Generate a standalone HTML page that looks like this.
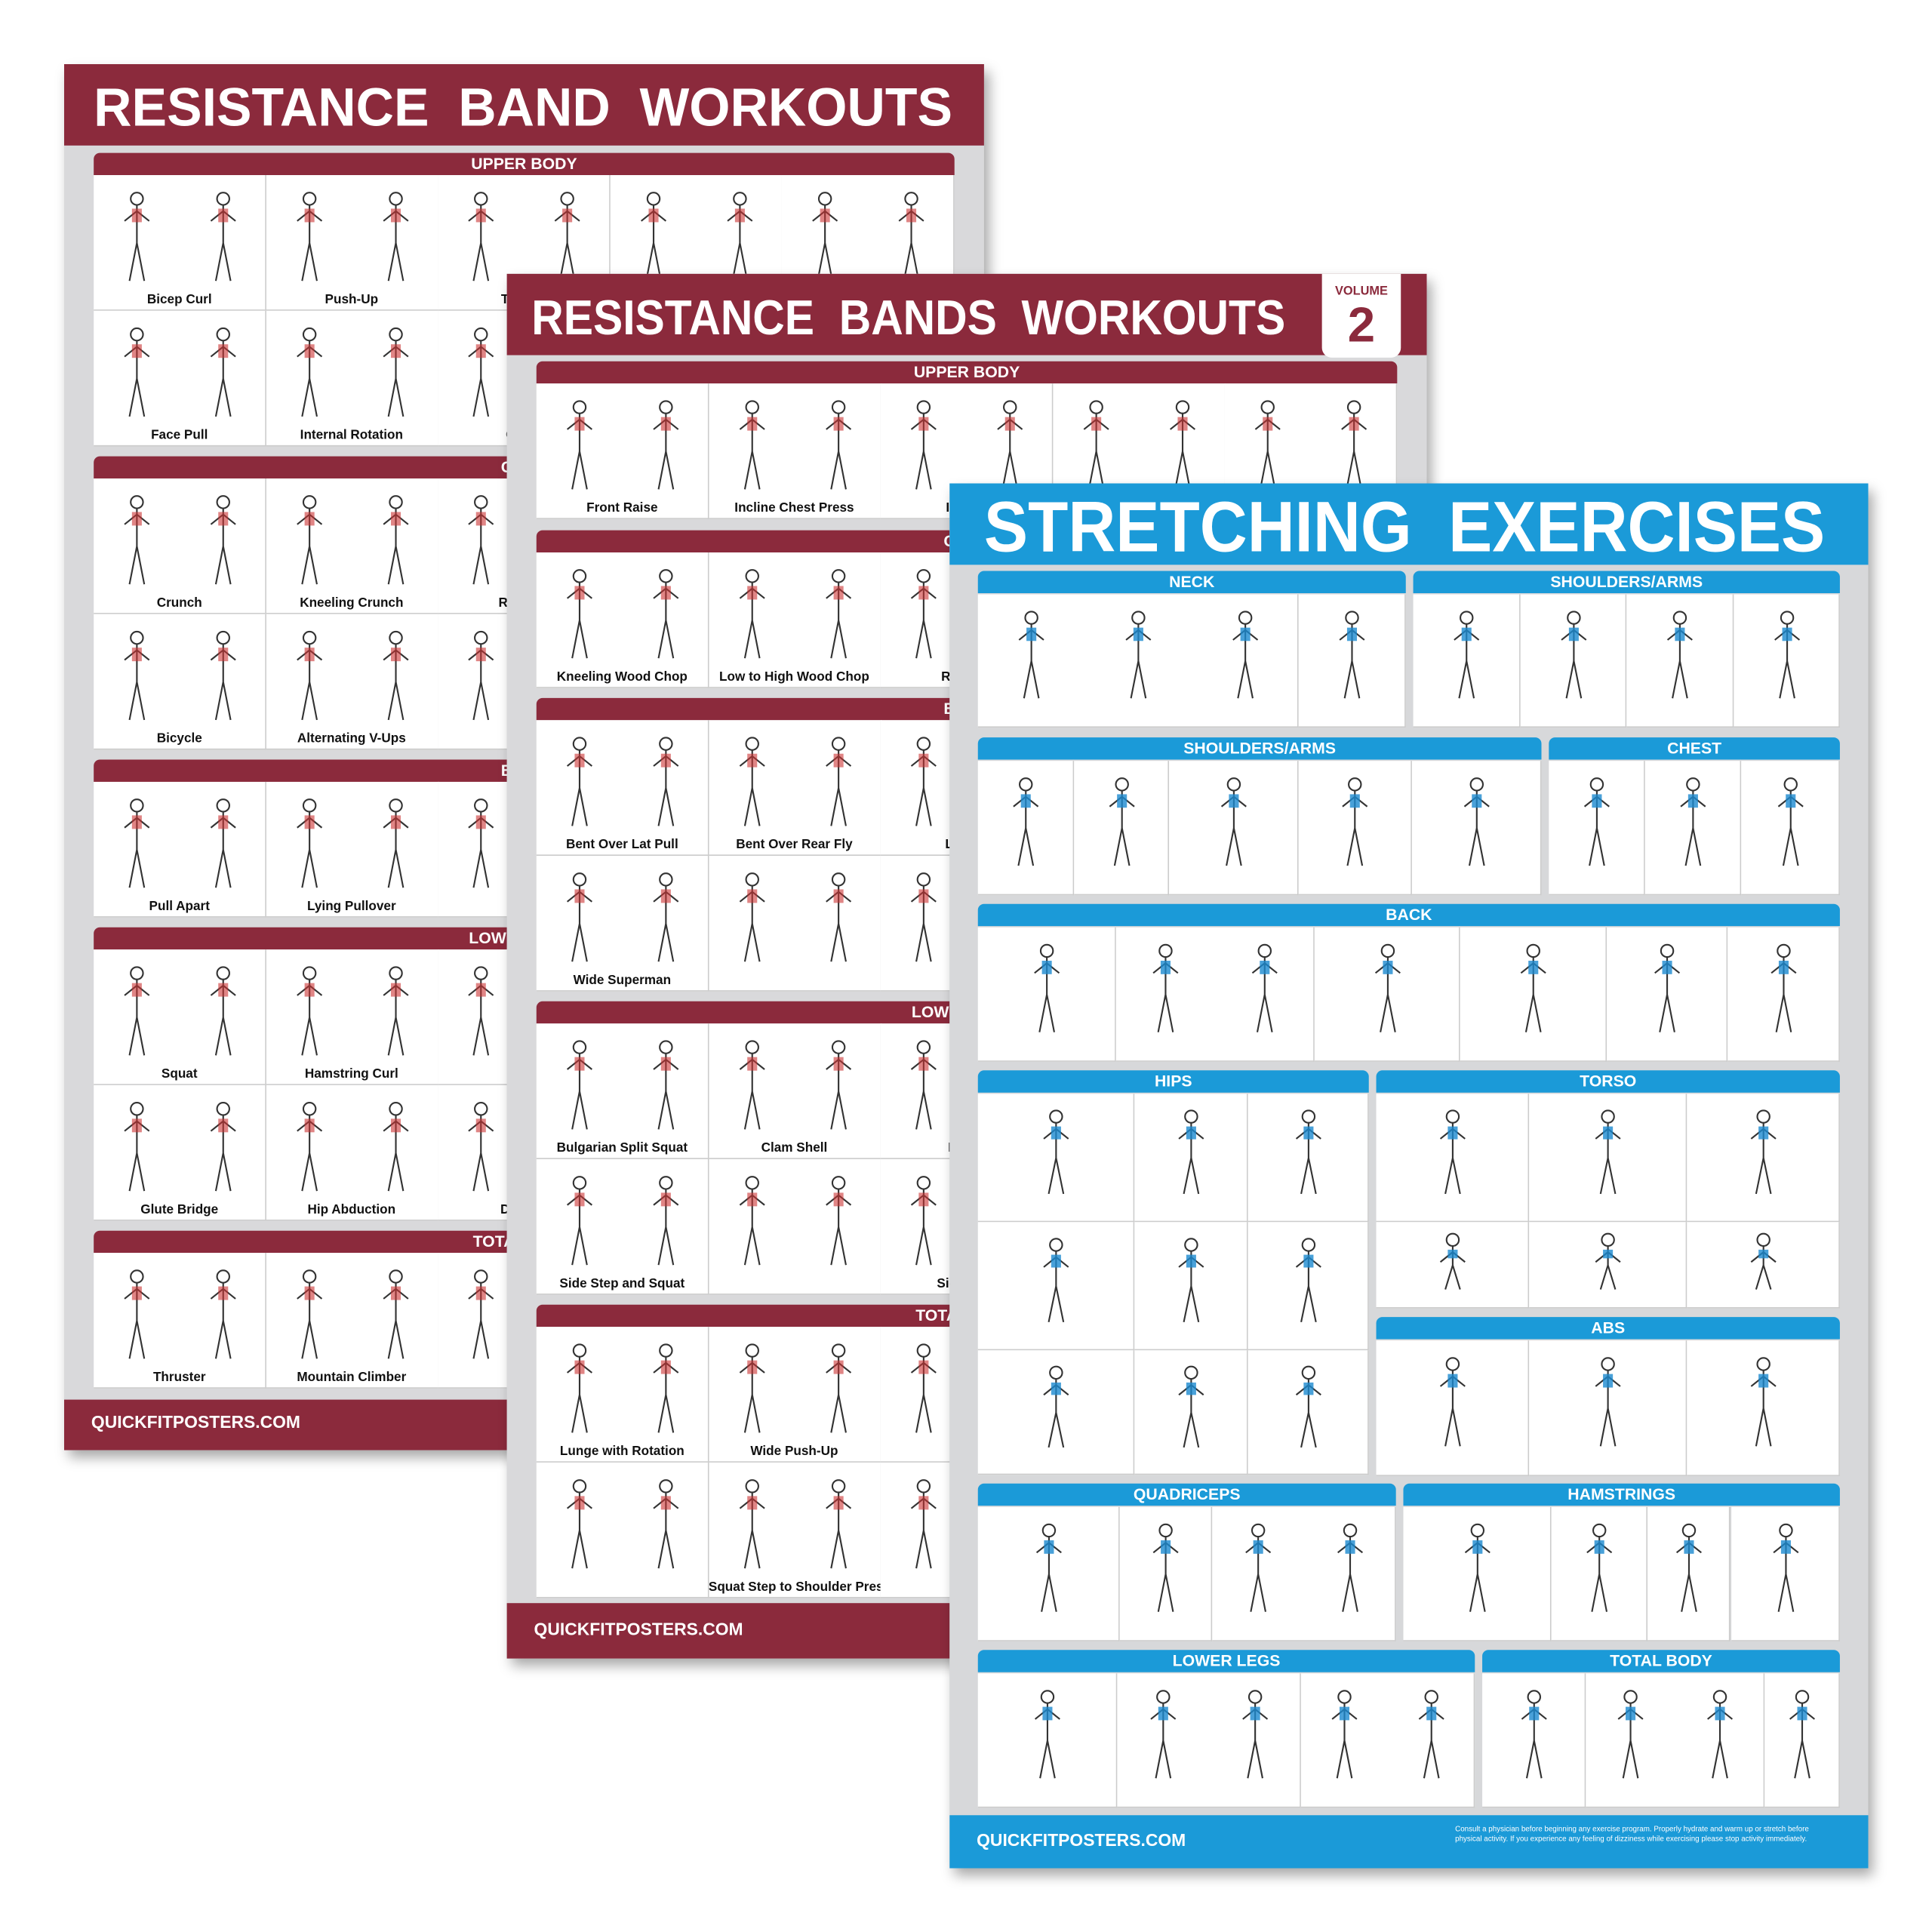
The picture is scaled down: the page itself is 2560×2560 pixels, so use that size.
<!DOCTYPE html>
<html><head><meta charset="utf-8">
<style>
html,body{margin:0;padding:0;background:#fff;}
body{width:2560px;height:2560px;overflow:hidden;position:relative;}
#w{position:absolute;left:0;top:0;width:1560px;height:1560px;transform:scale(1.634);transform-origin:0 0;font-family:"Liberation Sans",sans-serif;}
.p{position:absolute;background:#d9d9db;box-shadow:4px 6px 10px rgba(0,0,0,.35);overflow:hidden;}
.a{position:absolute;}
.bar{position:absolute;color:#fff;font-weight:bold;white-space:nowrap;}
.hd{position:absolute;color:#fff;font-weight:bold;font-size:13px;text-align:center;line-height:18px;border-radius:5px 5px 0 0;}
.cell{position:absolute;background:#fff;border-right:1px solid #ccc;border-bottom:1px solid #ccc;box-sizing:border-box;overflow:hidden;}
.lb{position:absolute;left:0;right:0;bottom:2px;text-align:center;font-size:10.5px;font-weight:bold;color:#111;white-space:nowrap;}
.t{display:inline-block;transform-origin:0 50%;}
</style></head><body><div id="w">

<div class="p" style="left:52px;top:52px;width:746px;height:1124px;">
 <div class="a" style="left:0;top:0;width:746px;height:66px;background:#8b2a3c;"></div>
 <div class="bar" style="left:24px;top:12px;font-size:44px;line-height:48px;"><span class="t" style="transform:scaleX(0.97)">RESISTANCE&nbsp; BAND&nbsp; WORKOUTS</span></div>
 <div class="a" style="left:0;top:1083px;width:746px;height:41px;background:#8b2a3c;"></div>
 <div class="bar" style="left:22px;top:1093px;font-size:14px;">QUICKFITPOSTERS.COM</div>
 <div id="p1"></div>
</div>

<div class="p" style="left:411px;top:222px;width:746px;height:1123px;">
 <div class="a" style="left:0;top:0;width:746px;height:66px;background:#8b2a3c;"></div>
 <div class="bar" style="left:20px;top:12px;font-size:40px;line-height:48px;"><span class="t" style="transform:scaleX(0.9)">RESISTANCE&nbsp; BANDS&nbsp; WORKOUTS</span></div>
 <div class="a" style="left:661px;top:0;width:64px;height:68px;background:#fff;border-radius:0 0 8px 8px;"></div>
 <div class="bar" style="left:661px;top:9px;width:64px;text-align:center;font-size:10px;color:#8b2a3c;">VOLUME</div>
 <div class="bar" style="left:661px;top:20px;width:64px;text-align:center;font-size:40px;line-height:44px;color:#8b2a3c;">2</div>
 <div class="a" style="left:0;top:1078px;width:746px;height:45px;background:#8b2a3c;"></div>
 <div class="bar" style="left:22px;top:1091px;font-size:14px;">QUICKFITPOSTERS.COM</div>
 <div id="p2"></div>
</div>

<div class="p" style="left:770px;top:392px;width:745px;height:1123px;background:#d7d8da;">
 <div class="a" style="left:0;top:0;width:745px;height:66px;background:#1b9ad8;"></div>
 <div class="bar" style="left:28px;top:6px;font-size:58px;line-height:60px;"><span class="t" style="transform:scaleX(0.92)">STRETCHING&nbsp; EXERCISES</span></div>
 <div class="a" style="left:0;top:1080px;width:745px;height:43px;background:#1b9ad8;"></div>
 <div class="bar" style="left:22px;top:1092px;font-size:14px;">QUICKFITPOSTERS.COM</div>
 <div class="bar" style="left:410px;top:1088px;font-size:6px;line-height:8px;font-weight:normal;">Consult a physician before beginning any exercise program. Properly hydrate and warm up or stretch before<br>physical activity. If you experience any feeling of dizziness while exercising please stop activity immediately.</div>
 <div id="p3"></div>
</div>

</div>
<script>
function fig(c,w,h,n,op){
  var s='<svg width="'+w+'" height="'+h+'" style="position:absolute;left:0;top:0">';
  for(var i=0;i<n;i++){
    var cx=w*(i+0.5)/n, top=h*0.12;
    s+='<g stroke="#333" stroke-width="1.3" fill="none">'+
      '<circle cx="'+cx+'" cy="'+(top+6)+'" r="5"/>'+
      '<path d="M'+cx+' '+(top+11)+' L'+cx+' '+(top+h*0.38)+' M'+(cx-10)+' '+(top+24)+' L'+cx+' '+(top+16)+' L'+(cx+10)+' '+(top+24)+' M'+cx+' '+(top+h*0.38)+' L'+(cx-6)+' '+(top+h*0.66)+' M'+cx+' '+(top+h*0.38)+' L'+(cx+6)+' '+(top+h*0.66)+'"/></g>';
    if(c) s+='<rect x="'+(cx-4)+'" y="'+(top+14)+'" width="8" height="'+(h*0.1)+'" fill="'+c+'" opacity="'+op+'"/>';
  }
  return s+'</svg>';
}
function res(id,ox,oy,secs,labels){
  var h='';var li=0;
  secs.forEach(function(s){
    h+='<div class="hd" style="left:'+ox+'px;top:'+(s[0]-oy)+'px;width:698px;background:#8b2a3c;">'+s[1]+'</div>';
    for(var r=0;r<s[2];r++){
      var y=s[0]+18+r*110-oy;
      for(var c=0;c<5;c++){
        var x=ox+c*139.6;
        var L=(labels[li]||'');li++;
        h+='<div class="cell" style="left:'+x+'px;top:'+y+'px;width:140px;height:110px;">'+fig('#c33',140,110,2,0.6)+'<div class="lb">'+L+'</div></div>';
      }
    }
  });
  document.getElementById(id).innerHTML=h;
}
res('p1',24,52,[[124,'UPPER BODY',2],[370,'CORE',2],[616,'BACK',1],[752,'LOWER BODY',2],[998,'TOTAL BODY',1]],
 ['Bicep Curl','Push-Up','Triceps','','','Face Pull','Internal Rotation','Chest','','',
  'Crunch','Kneeling Crunch','Reverse','','','Bicycle','Alternating V-Ups','Side','','',
  'Pull Apart','Lying Pullover','Bent','','',
  'Squat','Hamstring Curl','','','','Glute Bridge','Hip Abduction','Donkey','','',
  'Thruster','Mountain Climber','Pull','','']);
res('p2',24,222,[[293,'UPPER BODY',1],[430,'CORE',1],[566,'BACK',2],[812,'LOWER BODY',2],[1058,'TOTAL BODY',2]],
 ['Front Raise','Incline Chest Press','Incline','','',
  'Kneeling Wood Chop','Low to High Wood Chop','Russian','','',
  'Bent Over Lat Pull','Bent Over Rear Fly','Lateral','','','Wide Superman','','','','',
  'Bulgarian Split Squat','Clam Shell','Prone','','','Side Step and Squat','','Side Step','','',
  'Lunge with Rotation','Wide Push-Up','','','','','Squat Step to Shoulder Press','','','']);
var S=[
 [793,463,347,[108],[0.75]],[1146,463,346,[108],[0.25,0.5,0.75]],
 [793,598,457,[109],[0.17,0.34,0.57,0.77]],[1256,598,236,[109],[0.33,0.66]],
 [793,733,699,[109],[0.16,0.39,0.56,0.73,0.87]],
 [793,868,317,[104,104,101],[0.4,0.69]],[1116,868,376,[104,70],[0.33,0.67]],
 [1116,1068,376,[110],[0.33,0.67]],
 [793,1203,339,[109],[0.34,0.56]],[1138,1203,354,[109],[0.34,0.56,0.75]],
 [793,1338,403,[109],[0.28,0.65]],[1202,1338,290,[109],[0.29,0.79]]];
var names=['NECK','SHOULDERS/ARMS','SHOULDERS/ARMS','CHEST','BACK','HIPS','TORSO','ABS','QUADRICEPS','HAMSTRINGS','LOWER LEGS','TOTAL BODY'];
var h='';
S.forEach(function(s,i){
  var x=s[0]-770,y=s[1]-392,w=s[2];
  h+='<div class="hd" style="left:'+x+'px;top:'+y+'px;width:'+w+'px;background:#1b9ad8;">'+names[i]+'</div>';
  var yy=y+19;
  s[3].forEach(function(rh){
    var xs=[0].concat(s[4]).concat([1]);
    for(var k=0;k<xs.length-1;k++){
      var cx=x+xs[k]*w, cw=(xs[k+1]-xs[k])*w;
      h+='<div class="cell" style="left:'+cx+'px;top:'+yy+'px;width:'+cw+'px;height:'+rh+'px;">'+fig('#1b8ad0',cw,rh,Math.max(1,Math.round(cw/90)),0.8)+'</div>';
    }
    yy+=rh;
  });
});
document.getElementById('p3').innerHTML=h;
</script>
</body></html>
